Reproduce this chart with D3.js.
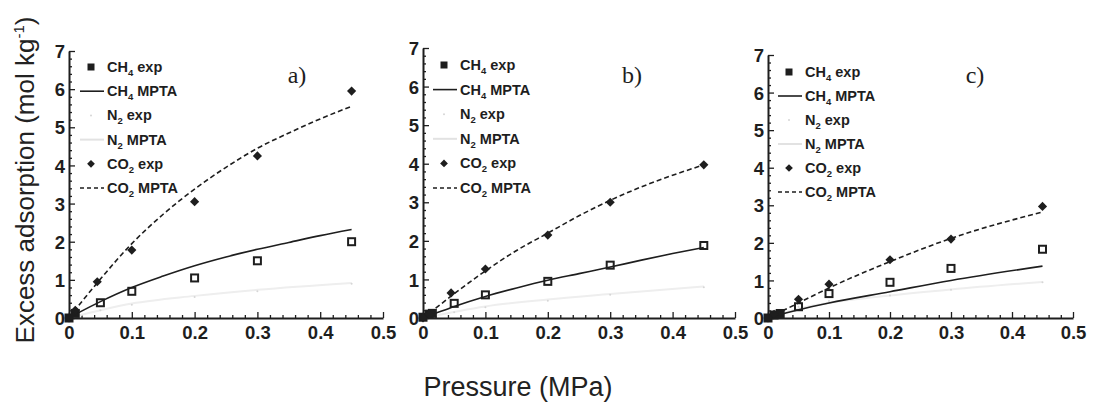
<!DOCTYPE html>
<html><head><meta charset="utf-8">
<script src="https://cdn.jsdelivr.net/npm/d3@7"></script>
<style>body{margin:0;background:#fff}svg{display:block}</style>
</head><body>
<svg id="c" width="1094" height="404"></svg>
<script>
// ---- data (pressure MPa, excess adsorption mol/kg) ----
const panelNames = ["a)", "b)", "c)"];
const xTicks = [0, 0.1, 0.2, 0.3, 0.4, 0.5];
const yTicks = [0, 1, 2, 3, 4, 5, 6, 7];

const aCH4exp = [[0,0],[0.01,0.12],[0.05,0.4],[0.1,0.7],[0.2,1.05],[0.3,1.5],[0.45,2.0]];
const aCH4mpta = [[0,0],[0.02,0.18],[0.05,0.43],[0.1,0.8],[0.15,1.1],[0.2,1.37],[0.25,1.6],[0.3,1.8],[0.35,1.98],[0.4,2.16],[0.45,2.32]];
const aN2exp = [[0.05,0.2],[0.1,0.35],[0.2,0.55],[0.3,0.7],[0.45,0.9]];
const aN2mpta = [[0,0],[0.1,0.38],[0.2,0.58],[0.3,0.74],[0.45,0.92]];
const aCO2exp = [[0,0],[0.01,0.2],[0.045,0.95],[0.1,1.78],[0.2,3.05],[0.3,4.25],[0.45,5.95]];
const aCO2mpta = [[0,0],[0.02,0.42],[0.05,1.02],[0.1,1.95],[0.15,2.72],[0.2,3.38],[0.25,3.95],[0.3,4.45],[0.35,4.85],[0.4,5.22],[0.45,5.55]];

const bCH4exp = [[0,0.02],[0.01,0.1],[0.015,0.12],[0.05,0.38],[0.1,0.6],[0.2,0.95],[0.3,1.37],[0.45,1.88]];
const bCH4mpta = [[0,0],[0.02,0.12],[0.05,0.3],[0.1,0.56],[0.15,0.78],[0.2,0.98],[0.25,1.15],[0.3,1.32],[0.35,1.5],[0.4,1.67],[0.45,1.83]];
const bN2exp = [[0.05,0.15],[0.1,0.28],[0.2,0.45],[0.3,0.6],[0.45,0.8]];
const bN2mpta = [[0,0],[0.1,0.3],[0.2,0.48],[0.3,0.62],[0.45,0.82]];
const bCO2exp = [[0,0],[0.01,0.1],[0.045,0.65],[0.1,1.27],[0.2,2.15],[0.3,3.0],[0.45,3.97]];
const bCO2mpta = [[0,0],[0.02,0.25],[0.05,0.63],[0.1,1.22],[0.15,1.75],[0.2,2.2],[0.25,2.65],[0.3,3.05],[0.35,3.4],[0.4,3.7],[0.45,3.97]];

const cCH4exp = [[0,0],[0.01,0.08],[0.02,0.12],[0.05,0.3],[0.1,0.65],[0.2,0.95],[0.3,1.32],[0.45,1.83]];
const cCH4mpta = [[0,0],[0.05,0.22],[0.1,0.4],[0.2,0.7],[0.3,1.0],[0.45,1.38]];
const cN2exp = [[0.05,0.3],[0.1,0.45],[0.2,0.6],[0.3,0.75],[0.45,0.95]];
const cN2mpta = [[0,0],[0.05,0.25],[0.1,0.4],[0.2,0.6],[0.3,0.76],[0.45,0.96]];
const cCO2exp = [[0,0],[0.01,0.1],[0.05,0.5],[0.1,0.9],[0.2,1.55],[0.3,2.1],[0.45,2.97]];
const cCO2mpta = [[0,0],[0.05,0.4],[0.1,0.8],[0.2,1.5],[0.3,2.12],[0.45,2.82]];

const legendGas = ["CH", "CH", "N", "N", "CO", "CO"];
const legendSub = ["4", "4", "2", "2", "2", "2"];
const legendKind = [" exp", " MPTA", " exp", " MPTA", " exp", " MPTA"];

// ---- layout ----
const panels = [
  {name: panelNames[0], x0: 69, x1: 383, yTop: 51, series: [aCH4exp, aCH4mpta, aN2exp, aN2mpta, aCO2exp, aCO2mpta],
   leg: {x: 80, y: 67, dy: 24.2}, lab: {x: 297, y: 83}},
  {name: panelNames[1], x0: 423, x1: 735, yTop: 48, series: [bCH4exp, bCH4mpta, bN2exp, bN2mpta, bCO2exp, bCO2mpta],
   leg: {x: 433, y: 65, dy: 24.6}, lab: {x: 632, y: 83}},
  {name: panelNames[2], x0: 768, x1: 1073, yTop: 55, series: [cCH4exp, cCH4mpta, cN2exp, cN2mpta, cCO2exp, cCO2mpta],
   leg: {x: 778, y: 72, dy: 24}, lab: {x: 975, y: 83}}
];
const yBottom = 318;
const ink = "#1e1e1e";
const faint = "#eeeeee";

const svg = d3.select("#c");

panels.forEach(p => {
  const x = d3.scaleLinear().domain([0, 0.5]).range([p.x0, p.x1]);
  const y = d3.scaleLinear().domain([0, 7]).range([yBottom, p.yTop]);
  const g = svg.append("g");

  const xMinor = d3.range(0, 0.5001, 0.02).filter(v => Math.abs(v*10 - Math.round(v*10)) > 1e-6);
  const yMinor = d3.range(0, 7.0001, 0.2).filter(v => Math.abs(v - Math.round(v)) > 1e-6);

  const xAxis = d3.axisBottom(x).tickValues(xTicks).tickFormat(d => d === 0 ? "0" : d3.format(".1f")(d)).tickSizeInner(-6).tickSizeOuter(0).tickPadding(10);
  const gx = g.append("g").attr("transform", `translate(0,${yBottom})`).call(xAxis);
  g.append("g").attr("transform", `translate(0,${yBottom})`)
    .call(d3.axisBottom(x).tickValues(xMinor).tickFormat("").tickSizeInner(-3).tickSizeOuter(0))
    .select(".domain").remove();

  const yAxis = d3.axisLeft(y).tickValues(yTicks).tickFormat(d3.format("d")).tickSizeInner(-6).tickSizeOuter(0).tickPadding(4);
  const gy = g.append("g").attr("transform", `translate(${p.x0},0)`).call(yAxis);
  g.append("g").attr("transform", `translate(${p.x0},0)`)
    .call(d3.axisLeft(y).tickValues(yMinor).tickFormat("").tickSizeInner(-3).tickSizeOuter(0))
    .select(".domain").remove();

  g.selectAll(".domain").attr("stroke", ink).attr("stroke-width", 2);
  g.selectAll(".tick line").attr("stroke", ink).attr("stroke-width", 1.3);
  g.selectAll(".tick text").attr("fill", ink).attr("font-family", "Liberation Sans, Arial, sans-serif")
    .attr("font-size", 18.5).attr("font-weight", "bold");
  gy.selectAll(".tick text").attr("dy", "0.36em");
  gx.selectAll(".tick text").attr("dy", "0.62em");

  const [ch4e, ch4m, n2e, n2m, co2e, co2m] = p.series;
  const line = d3.line().x(d => x(d[0])).y(d => y(d[1])).curve(d3.curveMonotoneX);

  // N2 (nearly invisible in the scan)
  g.append("path").attr("d", line(n2m)).attr("fill", "none").attr("stroke", faint).attr("stroke-width", 2);
  g.selectAll(".n2e").data(n2e).join("circle").attr("cx", d => x(d[0])).attr("cy", d => y(d[1]))
    .attr("r", 1).attr("fill", "#d6d6d6");

  g.append("path").attr("d", line(ch4m)).attr("fill", "none").attr("stroke", ink).attr("stroke-width", 1.6);
  g.append("path").attr("d", line(co2m)).attr("fill", "none").attr("stroke", ink).attr("stroke-width", 1.6)
    .attr("stroke-dasharray", "5,3");

  g.selectAll(".ch4e").data(ch4e).join("rect")
    .attr("x", d => x(d[0]) - 3.5).attr("y", d => y(d[1]) - 3.5).attr("width", 7).attr("height", 7)
    .attr("fill", d => d[0] < 0.03 ? ink : "none").attr("stroke", ink).attr("stroke-width", 2);

  const diamond = d3.symbol().type(d3.symbolSquare).size(42);
  g.selectAll(".co2e").data(co2e).join("path")
    .attr("transform", d => `translate(${x(d[0])},${y(d[1])}) rotate(45)`).attr("d", diamond).attr("fill", ink);

  // legend
  const lg = g.append("g").attr("font-family", "Liberation Sans, Arial, sans-serif").attr("font-size", 14.5)
    .attr("font-weight", "bold").attr("fill", ink);
  legendGas.forEach((gas, i) => {
    const ly = p.leg.y + i * p.leg.dy;
    const sx = p.leg.x + 11;
    if (i === 0) lg.append("rect").attr("x", sx - 3.5).attr("y", ly - 3.5).attr("width", 7).attr("height", 7).attr("fill", ink);
    if (i === 1) lg.append("line").attr("x1", p.leg.x).attr("x2", p.leg.x + 24).attr("y1", ly).attr("y2", ly).attr("stroke", ink).attr("stroke-width", 1.6);
    if (i === 2) lg.append("circle").attr("cx", sx).attr("cy", ly).attr("r", 1).attr("fill", "#d6d6d6");
    if (i === 3) lg.append("line").attr("x1", p.leg.x).attr("x2", p.leg.x + 24).attr("y1", ly).attr("y2", ly).attr("stroke", "#e2e2e2").attr("stroke-width", 2);
    if (i === 4) lg.append("path").attr("transform", `translate(${sx},${ly}) rotate(45)`).attr("d", d3.symbol().type(d3.symbolSquare).size(30)).attr("fill", ink);
    if (i === 5) lg.append("line").attr("x1", p.leg.x).attr("x2", p.leg.x + 24).attr("y1", ly).attr("y2", ly).attr("stroke", ink).attr("stroke-width", 1.6).attr("stroke-dasharray", "4,3");
    const t = lg.append("text").attr("x", p.leg.x + 27).attr("y", ly + 5);
    t.append("tspan").text(gas);
    t.append("tspan").attr("font-size", 9.5).attr("dy", 4).text(legendSub[i]);
    t.append("tspan").attr("dy", -4).text(legendKind[i]);
  });

  g.append("text").attr("x", p.lab.x).attr("y", p.lab.y).attr("text-anchor", "middle")
    .attr("font-family", "Liberation Serif, Times New Roman, serif").attr("font-size", 24).attr("fill", ink).text(p.name);
});

// axis titles
const yt = svg.append("text").attr("transform", "translate(34,180) rotate(-90)").attr("text-anchor", "middle")
  .attr("font-family", "Liberation Sans, Arial, sans-serif").attr("font-size", 26).attr("fill", "#222");
yt.append("tspan").text("Excess adsorption (mol kg");
yt.append("tspan").attr("font-size", 15).attr("dy", -10).text("-1");
yt.append("tspan").attr("dy", 10).text(")");
svg.append("text").attr("x", 518).attr("y", 396).attr("text-anchor", "middle")
  .attr("font-family", "Liberation Sans, Arial, sans-serif").attr("font-size", 27).attr("fill", "#222")
  .text("Pressure (MPa)");
</script>
</body></html>
